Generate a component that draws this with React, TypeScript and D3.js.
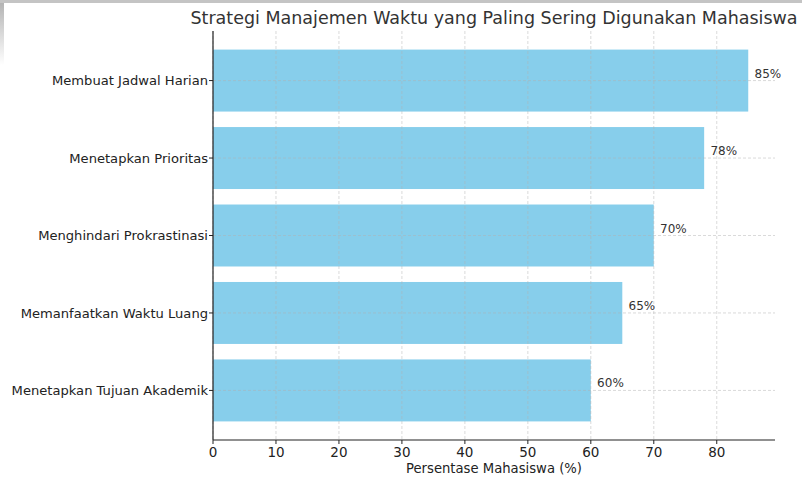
import React, { useEffect, useRef } from 'react';
import * as d3 from 'd3';

const strategies = [
  'Membuat Jadwal Harian',
  'Menetapkan Prioritas',
  'Menghindari Prokrastinasi',
  'Memanfaatkan Waktu Luang',
  'Menetapkan Tujuan Akademik',
];
const percentages = [85, 78, 70, 65, 60];
const xTicks = [0, 10, 20, 30, 40, 50, 60, 70, 80];

const W = 802;
const H = 483;
const margin = { top: 31, right: 27, bottom: 43, left: 213 };
const font = 'DejaVu Sans, sans-serif';

function App() {
  const ref = useRef<SVGSVGElement>(null);

  useEffect(() => {
    const svg = d3.select(ref.current);
    svg.selectAll('*').remove();

    // screenshot frame shading
    const defs = svg.append('defs');
    const lg = defs.append('linearGradient').attr('id', 'leftShade').attr('x1', 0).attr('x2', 0).attr('y1', 0).attr('y2', 1);
    lg.append('stop').attr('offset', '0%').attr('stop-color', '#b0b0b0');
    lg.append('stop').attr('offset', '100%').attr('stop-color', '#ffffff');
    svg.append('rect').attr('x', 0).attr('y', 0).attr('width', 4).attr('height', 65).attr('fill', 'url(#leftShade)');
    svg.append('rect').attr('x', 0).attr('y', 0).attr('width', W).attr('height', 3).attr('fill', '#c4c4c4');

    const iw = W - margin.left - margin.right;
    const ih = H - margin.top - margin.bottom;

    const x = d3.scaleLinear().domain([0, 85 * 1.05]).range([0, iw]);
    const step = ih / 5.28;
    const y = (i: number) => (0.64 + i) * step;
    const bh = 0.8 * step;

    const g = svg.append('g').attr('transform', `translate(${margin.left},${margin.top})`);

    g.selectAll('rect.bar')
      .data(percentages)
      .enter()
      .append('rect')
      .attr('class', 'bar')
      .attr('x', 0)
      .attr('y', (_, i) => y(i) - bh / 2)
      .attr('width', d => x(d))
      .attr('height', bh)
      .attr('fill', '#87CEEB');

    // grid on top of bars
    g.selectAll('line.vgrid')
      .data(xTicks)
      .enter()
      .append('line')
      .attr('x1', d => x(d)).attr('x2', d => x(d))
      .attr('y1', 0).attr('y2', ih)
      .attr('stroke', '#b0b0b0').attr('stroke-opacity', 0.6)
      .attr('stroke-width', 0.8).attr('stroke-dasharray', '3,2');

    g.selectAll('line.hgrid')
      .data(strategies)
      .enter()
      .append('line')
      .attr('x1', 0).attr('x2', iw)
      .attr('y1', (_, i) => y(i)).attr('y2', (_, i) => y(i))
      .attr('stroke', '#b0b0b0').attr('stroke-opacity', 0.6)
      .attr('stroke-width', 0.8).attr('stroke-dasharray', '3,2');

    // value labels
    g.selectAll('text.val')
      .data(percentages)
      .enter()
      .append('text')
      .attr('x', d => x(d + 1))
      .attr('y', (_, i) => y(i) - 3)
      .attr('font-family', font)
      .attr('font-size', 12)
      .attr('fill', '#333')
      .text(d => `${d}%`);

    // spines
    g.append('line').attr('x1', 0).attr('x2', 0).attr('y1', 0).attr('y2', ih).attr('stroke', '#222').attr('stroke-width', 1.2);
    g.append('line').attr('x1', 0).attr('x2', iw).attr('y1', ih).attr('y2', ih).attr('stroke', '#222').attr('stroke-width', 1.2);

    // x ticks
    const xt = g.selectAll('g.xt').data(xTicks).enter().append('g').attr('transform', d => `translate(${x(d)},${ih})`);
    xt.append('line').attr('y2', 4).attr('stroke', '#222');
    xt.append('text').attr('y', 17).attr('text-anchor', 'middle').attr('font-family', font).attr('font-size', 13.5).attr('fill', '#222').text(d => d);

    // y ticks
    const yt = g.selectAll('g.yt').data(strategies).enter().append('g').attr('transform', (_, i) => `translate(0,${y(i)})`);
    yt.append('line').attr('x2', -4).attr('stroke', '#222');
    yt.append('text').attr('x', -5).attr('dy', '0.35em').attr('text-anchor', 'end').attr('font-family', font).attr('font-size', 13.1).attr('fill', '#222').text(d => d);

    g.append('text')
      .attr('x', iw / 2).attr('y', ih + 33)
      .attr('text-anchor', 'middle').attr('font-family', font).attr('font-size', 13.2).attr('fill', '#222')
      .text('Persentase Mahasiswa (%)');

    svg.append('text')
      .attr('x', margin.left + iw / 2).attr('y', 24)
      .attr('text-anchor', 'middle').attr('font-family', font).attr('font-size', 17.5).attr('fill', '#333')
      .text('Strategi Manajemen Waktu yang Paling Sering Digunakan Mahasiswa');
  }, []);

  return (
    <svg ref={ref} width={W} height={H} style={{ position: 'absolute', left: 0, top: 0, background: '#fff' }} />
  );
}

export default App;
